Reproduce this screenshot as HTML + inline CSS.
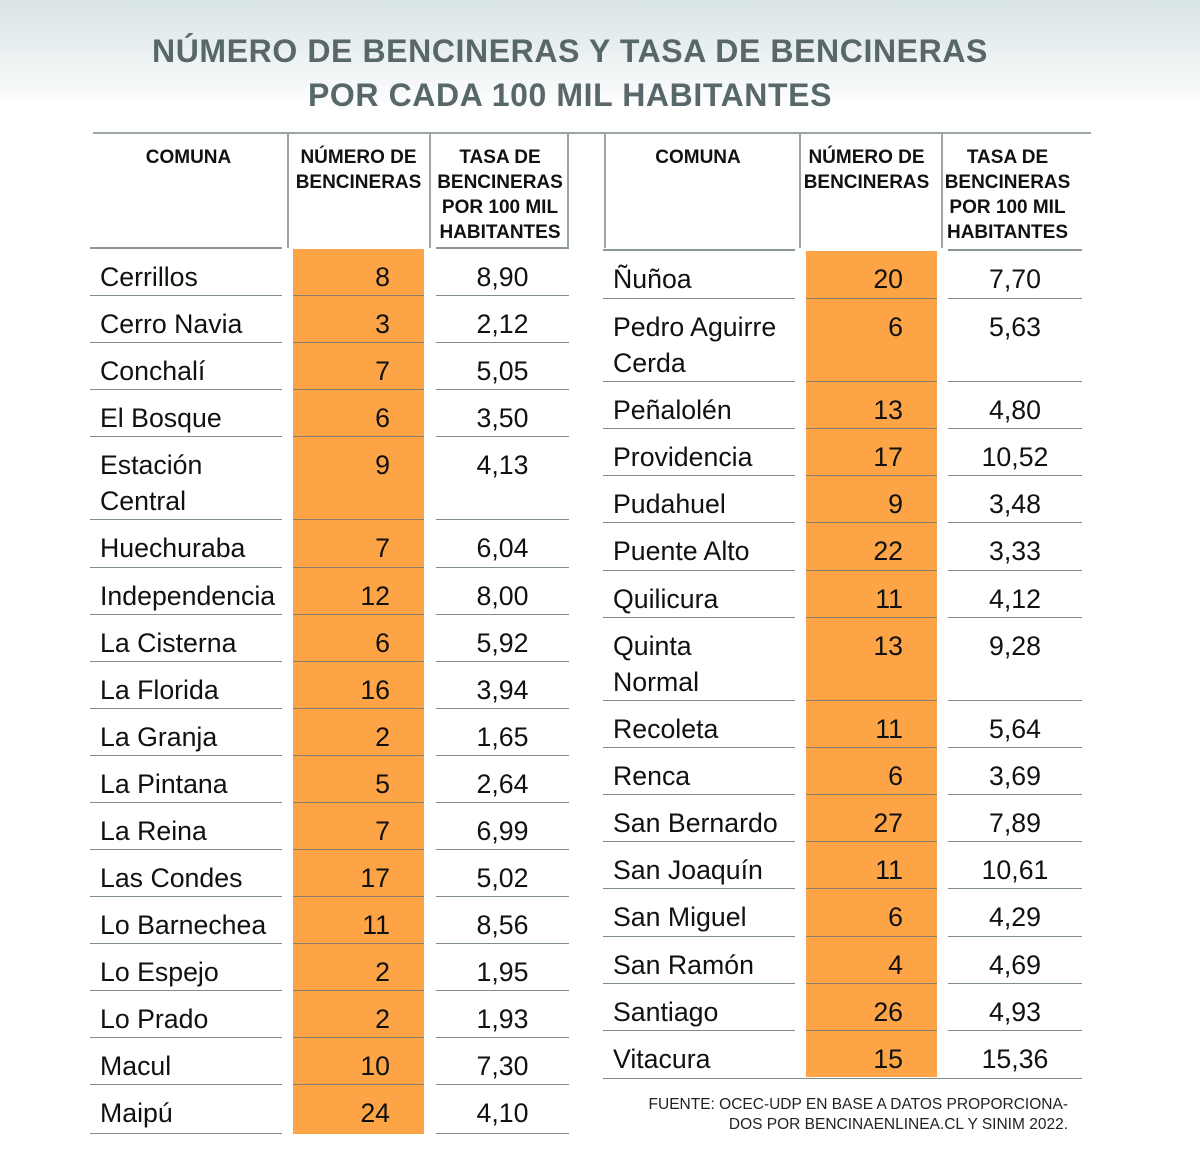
<!DOCTYPE html>
<html><head><meta charset="utf-8"><style>
*{margin:0;padding:0;box-sizing:border-box}
body{width:1200px;height:1176px;position:relative;background:#fff;font-family:"Liberation Sans",sans-serif;overflow:hidden}
.bg{position:absolute;left:0;top:0;width:1200px;height:110px;background:linear-gradient(#d8e3e4,#ffffff)}
.t{position:absolute;left:0;width:1140px;text-align:center;color:#58686a;font-weight:bold;font-size:32px;letter-spacing:0.6px}
.h{position:absolute;top:145px;font-weight:bold;font-size:19px;line-height:25px;text-align:center;color:#111}
.vl{position:absolute;top:133px;width:1.5px;height:115px;background:#9aa6a6}
.c{position:absolute;font-size:26.7px;line-height:36px;padding-top:10px;color:#111;border-bottom:1.5px solid #7d8c8c}
.n{background:#fca446;text-align:right;padding-right:34px;border-bottom:1px solid #8a8070}
.tz{text-align:center}
.nm{padding-left:10px}
.f{position:absolute;right:132px;font-size:15.5px;color:#222;text-align:right;line-height:20px}
</style></head><body>
<div class="bg"></div>
<div class="t" style="top:33px;left:0;width:1140px">NÚMERO DE BENCINERAS Y TASA DE BENCINERAS</div>
<div class="t" style="top:77px;left:0;width:1140px">POR CADA 100 MIL HABITANTES</div>
<div style="position:absolute;left:93px;top:132px;width:998px;height:1.5px;background:#9aa6a6"></div>
<div class="vl" style="left:287px"></div><div class="vl" style="left:429px"></div><div class="vl" style="left:567px"></div>
<div class="vl" style="left:604px"></div><div class="vl" style="left:799px"></div><div class="vl" style="left:941px"></div>
<div class="h" style="left:90px;width:197px">COMUNA</div>
<div class="h" style="left:287px;width:143px">NÚMERO DE<br>BENCINERAS</div>
<div class="h" style="left:430px;width:140px">TASA DE<br>BENCINERAS<br>POR 100 MIL<br>HABITANTES</div>
<div class="h" style="left:600px;width:196px">COMUNA</div>
<div class="h" style="left:800px;width:133px">NÚMERO DE<br>BENCINERAS</div>
<div class="h" style="left:941px;width:133px">TASA DE<br>BENCINERAS<br>POR 100 MIL<br>HABITANTES</div>
<div style="position:absolute;left:90px;top:247px;width:192px;height:1.5px;background:#8a9696"></div>
<div style="position:absolute;left:436px;top:247px;width:133px;height:1.5px;background:#8a9696"></div>
<div style="position:absolute;left:603px;top:249px;width:192px;height:1.5px;background:#8a9696"></div>
<div style="position:absolute;left:948px;top:249px;width:134px;height:1.5px;background:#8a9696"></div>

<!-- LEFT -->
<div class="c nm" style="left:90px;width:192px;top:249px;height:47px">Cerrillos</div><div class="c n" style="left:293px;width:131px;top:249px;height:47px">8</div><div class="c tz" style="left:436px;width:133px;top:249px;height:47px">8,90</div>
<div class="c nm" style="left:90px;width:192px;top:296px;height:47px">Cerro Navia</div><div class="c n" style="left:293px;width:131px;top:296px;height:47px">3</div><div class="c tz" style="left:436px;width:133px;top:296px;height:47px">2,12</div>
<div class="c nm" style="left:90px;width:192px;top:343px;height:47px">Conchalí</div><div class="c n" style="left:293px;width:131px;top:343px;height:47px">7</div><div class="c tz" style="left:436px;width:133px;top:343px;height:47px">5,05</div>
<div class="c nm" style="left:90px;width:192px;top:390px;height:47px">El Bosque</div><div class="c n" style="left:293px;width:131px;top:390px;height:47px">6</div><div class="c tz" style="left:436px;width:133px;top:390px;height:47px">3,50</div>
<div class="c nm" style="left:90px;width:192px;top:437px;height:83px">Estación<br>Central</div><div class="c n" style="left:293px;width:131px;top:437px;height:83px">9</div><div class="c tz" style="left:436px;width:133px;top:437px;height:83px">4,13</div>
<div class="c nm" style="left:90px;width:192px;top:520px;height:48px">Huechuraba</div><div class="c n" style="left:293px;width:131px;top:520px;height:48px">7</div><div class="c tz" style="left:436px;width:133px;top:520px;height:48px">6,04</div>
<div class="c nm" style="left:90px;width:192px;top:568px;height:47px">Independencia</div><div class="c n" style="left:293px;width:131px;top:568px;height:47px">12</div><div class="c tz" style="left:436px;width:133px;top:568px;height:47px">8,00</div>
<div class="c nm" style="left:90px;width:192px;top:615px;height:47px">La Cisterna</div><div class="c n" style="left:293px;width:131px;top:615px;height:47px">6</div><div class="c tz" style="left:436px;width:133px;top:615px;height:47px">5,92</div>
<div class="c nm" style="left:90px;width:192px;top:662px;height:47px">La Florida</div><div class="c n" style="left:293px;width:131px;top:662px;height:47px">16</div><div class="c tz" style="left:436px;width:133px;top:662px;height:47px">3,94</div>
<div class="c nm" style="left:90px;width:192px;top:709px;height:47px">La Granja</div><div class="c n" style="left:293px;width:131px;top:709px;height:47px">2</div><div class="c tz" style="left:436px;width:133px;top:709px;height:47px">1,65</div>
<div class="c nm" style="left:90px;width:192px;top:756px;height:47px">La Pintana</div><div class="c n" style="left:293px;width:131px;top:756px;height:47px">5</div><div class="c tz" style="left:436px;width:133px;top:756px;height:47px">2,64</div>
<div class="c nm" style="left:90px;width:192px;top:803px;height:47px">La Reina</div><div class="c n" style="left:293px;width:131px;top:803px;height:47px">7</div><div class="c tz" style="left:436px;width:133px;top:803px;height:47px">6,99</div>
<div class="c nm" style="left:90px;width:192px;top:850px;height:47px">Las Condes</div><div class="c n" style="left:293px;width:131px;top:850px;height:47px">17</div><div class="c tz" style="left:436px;width:133px;top:850px;height:47px">5,02</div>
<div class="c nm" style="left:90px;width:192px;top:897px;height:47px">Lo Barnechea</div><div class="c n" style="left:293px;width:131px;top:897px;height:47px">11</div><div class="c tz" style="left:436px;width:133px;top:897px;height:47px">8,56</div>
<div class="c nm" style="left:90px;width:192px;top:944px;height:47px">Lo Espejo</div><div class="c n" style="left:293px;width:131px;top:944px;height:47px">2</div><div class="c tz" style="left:436px;width:133px;top:944px;height:47px">1,95</div>
<div class="c nm" style="left:90px;width:192px;top:991px;height:47px">Lo Prado</div><div class="c n" style="left:293px;width:131px;top:991px;height:47px">2</div><div class="c tz" style="left:436px;width:133px;top:991px;height:47px">1,93</div>
<div class="c nm" style="left:90px;width:192px;top:1038px;height:47px">Macul</div><div class="c n" style="left:293px;width:131px;top:1038px;height:47px">10</div><div class="c tz" style="left:436px;width:133px;top:1038px;height:47px">7,30</div>
<div class="c nm" style="left:90px;width:192px;top:1085px;height:49px">Maipú</div><div class="c n" style="left:293px;width:131px;top:1085px;height:49px;border-bottom:none">24</div><div class="c tz" style="left:436px;width:133px;top:1085px;height:49px">4,10</div>

<!-- RIGHT -->
<div class="c nm" style="left:603px;width:192px;top:251px;height:48px">Ñuñoa</div><div class="c n" style="left:806px;width:131px;top:251px;height:48px">20</div><div class="c tz" style="left:948px;width:134px;top:251px;height:48px">7,70</div>
<div class="c nm" style="left:603px;width:192px;top:299px;height:83px">Pedro Aguirre<br>Cerda</div><div class="c n" style="left:806px;width:131px;top:299px;height:83px">6</div><div class="c tz" style="left:948px;width:134px;top:299px;height:83px">5,63</div>
<div class="c nm" style="left:603px;width:192px;top:382px;height:47px">Peñalolén</div><div class="c n" style="left:806px;width:131px;top:382px;height:47px">13</div><div class="c tz" style="left:948px;width:134px;top:382px;height:47px">4,80</div>
<div class="c nm" style="left:603px;width:192px;top:429px;height:47px">Providencia</div><div class="c n" style="left:806px;width:131px;top:429px;height:47px">17</div><div class="c tz" style="left:948px;width:134px;top:429px;height:47px">10,52</div>
<div class="c nm" style="left:603px;width:192px;top:476px;height:47px">Pudahuel</div><div class="c n" style="left:806px;width:131px;top:476px;height:47px">9</div><div class="c tz" style="left:948px;width:134px;top:476px;height:47px">3,48</div>
<div class="c nm" style="left:603px;width:192px;top:523px;height:48px">Puente Alto</div><div class="c n" style="left:806px;width:131px;top:523px;height:48px">22</div><div class="c tz" style="left:948px;width:134px;top:523px;height:48px">3,33</div>
<div class="c nm" style="left:603px;width:192px;top:571px;height:47px">Quilicura</div><div class="c n" style="left:806px;width:131px;top:571px;height:47px">11</div><div class="c tz" style="left:948px;width:134px;top:571px;height:47px">4,12</div>
<div class="c nm" style="left:603px;width:192px;top:618px;height:83px">Quinta<br>Normal</div><div class="c n" style="left:806px;width:131px;top:618px;height:83px">13</div><div class="c tz" style="left:948px;width:134px;top:618px;height:83px">9,28</div>
<div class="c nm" style="left:603px;width:192px;top:701px;height:47px">Recoleta</div><div class="c n" style="left:806px;width:131px;top:701px;height:47px">11</div><div class="c tz" style="left:948px;width:134px;top:701px;height:47px">5,64</div>
<div class="c nm" style="left:603px;width:192px;top:748px;height:47px">Renca</div><div class="c n" style="left:806px;width:131px;top:748px;height:47px">6</div><div class="c tz" style="left:948px;width:134px;top:748px;height:47px">3,69</div>
<div class="c nm" style="left:603px;width:192px;top:795px;height:47px">San Bernardo</div><div class="c n" style="left:806px;width:131px;top:795px;height:47px">27</div><div class="c tz" style="left:948px;width:134px;top:795px;height:47px">7,89</div>
<div class="c nm" style="left:603px;width:192px;top:842px;height:47px">San Joaquín</div><div class="c n" style="left:806px;width:131px;top:842px;height:47px">11</div><div class="c tz" style="left:948px;width:134px;top:842px;height:47px">10,61</div>
<div class="c nm" style="left:603px;width:192px;top:889px;height:48px">San Miguel</div><div class="c n" style="left:806px;width:131px;top:889px;height:48px">6</div><div class="c tz" style="left:948px;width:134px;top:889px;height:48px">4,29</div>
<div class="c nm" style="left:603px;width:192px;top:937px;height:47px">San Ramón</div><div class="c n" style="left:806px;width:131px;top:937px;height:47px">4</div><div class="c tz" style="left:948px;width:134px;top:937px;height:47px">4,69</div>
<div class="c nm" style="left:603px;width:192px;top:984px;height:47px">Santiago</div><div class="c n" style="left:806px;width:131px;top:984px;height:47px">26</div><div class="c tz" style="left:948px;width:134px;top:984px;height:47px">4,93</div>
<div class="c n" style="left:806px;width:131px;top:1031px;height:46px;border-bottom:none">15</div>
<div class="c nm" style="left:603px;width:479px;top:1031px;height:48px;background:transparent">Vitacura</div>
<div class="c tz" style="left:948px;width:134px;top:1031px;height:48px;border-bottom:none">15,36</div>

<div class="f" style="top:1095px">FUENTE: OCEC-UDP EN BASE A DATOS PROPORCIONA-<br>DOS POR BENCINAENLINEA.CL Y SINIM 2022.</div>
</body></html>
